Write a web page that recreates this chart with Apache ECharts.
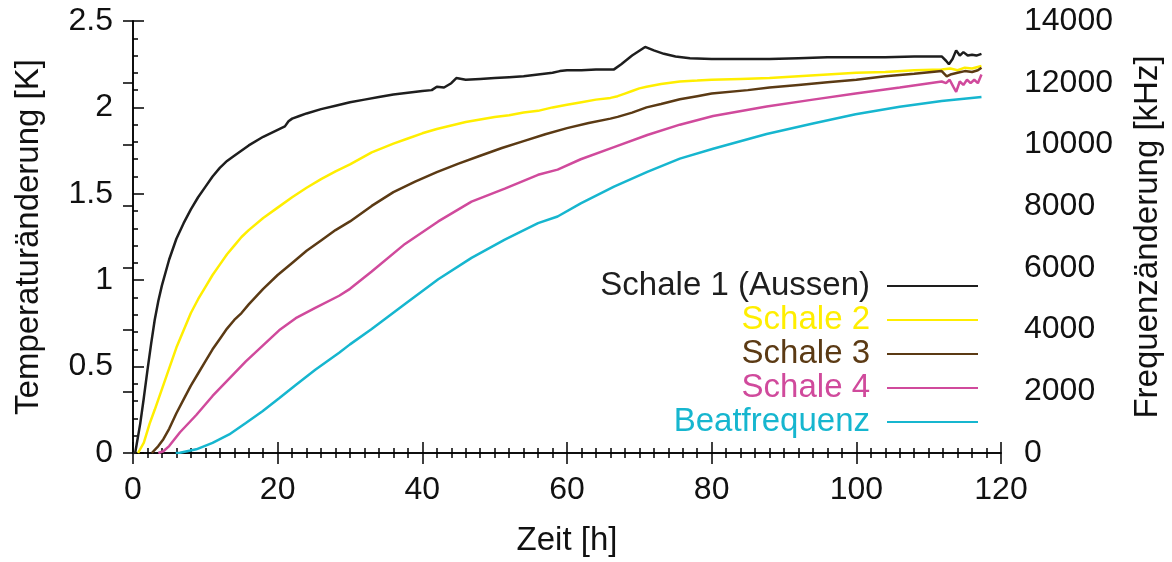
<!DOCTYPE html>
<html>
<head>
<meta charset="utf-8">
<script src="https://cdn.jsdelivr.net/npm/echarts@6/dist/echarts.min.js"></script>
<style>html,body{margin:0;padding:0;background:#fff;}#c{width:1172px;height:562px;}</style>
</head>
<body>
<div id="c"></div>
<script>
// Time axis tick labels
const xTicks = [0, 20, 40, 60, 80, 100, 120];
const yLeftTicks = [0, 0.5, 1, 1.5, 2, 2.5];
const yRightTicks = [0, 2000, 4000, 6000, 8000, 10000, 12000, 14000];

// Schale 1 (Aussen) [K]
const tS1 = [0, 0.3, 1, 1.5, 2, 2.5, 3, 3.5, 4, 5, 6, 7, 8, 9, 10, 11, 12, 13, 14, 16, 18, 20, 21, 21.5, 22, 23, 24, 26, 28, 30, 32, 34, 36, 38, 40, 41.3, 42, 43, 44, 44.7, 46, 48, 50, 52, 54, 56, 58, 59, 60, 62, 64, 66.5, 67.5, 69, 70.8, 72, 73.4, 75, 77, 80, 84, 88, 92, 96, 100, 104, 108, 111.8, 112.4, 112.8, 113.3, 113.8, 114.3, 114.8, 115.4, 116, 116.6, 117.3];
const vS1 = [0, 0, 0.17, 0.32, 0.48, 0.63, 0.77, 0.88, 0.97, 1.12, 1.24, 1.33, 1.41, 1.48, 1.54, 1.6, 1.65, 1.69, 1.72, 1.78, 1.83, 1.87, 1.89, 1.92, 1.935, 1.95, 1.965, 1.99, 2.01, 2.03, 2.045, 2.06, 2.075, 2.085, 2.095, 2.1, 2.12, 2.115, 2.14, 2.17, 2.16, 2.165, 2.17, 2.175, 2.18, 2.19, 2.2, 2.21, 2.215, 2.215, 2.22, 2.22, 2.25, 2.3, 2.35, 2.33, 2.31, 2.295, 2.285, 2.28, 2.28, 2.28, 2.285, 2.29, 2.29, 2.29, 2.295, 2.295, 2.27, 2.25, 2.28, 2.33, 2.3, 2.32, 2.3, 2.305, 2.3, 2.31];

// Schale 2 [K]
const tS2 = [0.7, 1.5, 2.3, 3, 4, 5, 6, 7, 8, 9, 10, 11, 12, 13, 14, 15, 16, 18, 20, 22, 24, 26, 28, 30, 33, 36, 38, 40, 42, 44, 46, 48, 50, 52, 54, 56, 58, 60, 62, 64, 66, 67, 68, 69, 70, 71, 73, 75.6, 78, 80, 84, 88, 92, 96, 100, 104, 108, 111.8, 113, 114, 115, 116, 117.3];
const vS2 = [0, 0.06, 0.17, 0.25, 0.37, 0.49, 0.61, 0.71, 0.81, 0.89, 0.96, 1.03, 1.09, 1.15, 1.2, 1.25, 1.29, 1.36, 1.42, 1.48, 1.535, 1.585, 1.63, 1.67, 1.74, 1.79, 1.82, 1.85, 1.875, 1.895, 1.915, 1.93, 1.945, 1.955, 1.97, 1.98, 2.0, 2.015, 2.03, 2.045, 2.055, 2.065, 2.08, 2.095, 2.11, 2.12, 2.135, 2.15, 2.155, 2.16, 2.165, 2.17, 2.18, 2.19, 2.2, 2.205, 2.215, 2.22, 2.225, 2.215, 2.23, 2.225, 2.24];

// Schale 3 [K]
const tS3 = [2.6, 3.5, 4.2, 5, 6, 7, 8, 9, 10, 11, 12, 13, 14, 15, 16, 18, 20, 22, 24, 26, 28, 30, 33, 36, 39, 42, 45, 48, 51, 54, 57, 60, 63, 66, 67, 69, 71, 73, 75.6, 78, 80, 85, 88, 92, 96, 100, 104, 108, 111.8, 112.5, 113, 114, 115, 116, 116.8, 117.3];
const vS3 = [0, 0.04, 0.08, 0.14, 0.23, 0.31, 0.39, 0.46, 0.53, 0.6, 0.66, 0.72, 0.77, 0.81, 0.86, 0.95, 1.03, 1.1, 1.17, 1.23, 1.29, 1.34, 1.43, 1.51, 1.57, 1.625, 1.675, 1.72, 1.765, 1.805, 1.845, 1.88, 1.91, 1.935, 1.945, 1.97, 2.0, 2.02, 2.047, 2.065, 2.08, 2.1, 2.115, 2.13, 2.145, 2.16, 2.18, 2.195, 2.21, 2.18, 2.19, 2.2, 2.21, 2.205, 2.215, 2.23];

// Schale 4 [K]
const tS4 = [3.5, 4.2, 5, 6.5, 8.75, 11, 13.3, 15.6, 17.9, 20.2, 22.5, 25.2, 28.5, 30, 33, 37.6, 42.2, 46.8, 51.4, 56, 58.7, 61.9, 66.5, 71.1, 75.6, 80.2, 87.6, 94, 99.9, 106, 111.8, 112.4, 112.9, 113.4, 113.8, 114.3, 114.8, 115.3, 115.8, 116.3, 116.8, 117.3];
const vS4 = [0, 0.01, 0.04, 0.12, 0.22, 0.33, 0.43, 0.53, 0.62, 0.71, 0.78, 0.84, 0.91, 0.95, 1.05, 1.21, 1.34, 1.455, 1.53, 1.61, 1.64, 1.7, 1.77, 1.84, 1.9, 1.95, 2.005, 2.045, 2.08, 2.115, 2.15, 2.14, 2.16, 2.12, 2.09, 2.15, 2.13, 2.16, 2.14, 2.16, 2.14, 2.19];

// Beatfrequenz [kHz]
const tBF = [5.9, 6.5, 8.75, 11, 13.3, 15.6, 17.9, 20.2, 22.5, 25.2, 28.5, 30, 33, 37.6, 42.2, 46.8, 51.4, 56, 58.7, 61.9, 66.5, 71.1, 75.6, 80.2, 87.6, 94, 99.9, 106, 111.8, 117.3];
const vBF = [0, 10, 120, 330, 600, 970, 1350, 1775, 2205, 2700, 3250, 3520, 4020, 4825, 5630, 6325, 6915, 7450, 7665, 8090, 8630, 9110, 9540, 9860, 10340, 10680, 10980, 11220, 11410, 11540];

const names = ['Schale 1 (Aussen)', 'Schale 2', 'Schale 3', 'Schale 4', 'Beatfrequenz'];
const colors = ['#1e1e1e', '#ffee00', '#5b3a14', '#d04a9c', '#16b6cf'];

const pairs = (t, v) => t.map((x, i) => [x, v[i]]);
const FONT = 'Liberation Sans, Arial, Helvetica, sans-serif';

const chart = echarts.init(document.getElementById('c'), null, {renderer: 'canvas'});

const xBase = {
  type: 'value', min: xTicks[0], max: xTicks[xTicks.length - 1], interval: 20,
  axisLine: {show: true, lineStyle: {color: '#000', width: 1.5}},
  axisTick: {show: true, inside: true, length: 11, lineStyle: {color: '#000', width: 1.5}},
  minorTick: {show: true, splitNumber: 10, length: 5, lineStyle: {color: '#000', width: 1.5}},
  splitLine: {show: false}
};

chart.setOption({
  animation: false,
  backgroundColor: '#fff',
  grid: {left: 133, right: 166, top: 21, bottom: 105, containLabel: false},
  textStyle: {fontFamily: FONT},
  legend: {
    orient: 'vertical', align: 'right', right: 194, top: 269, padding: 0, itemGap: 0,
    itemWidth: 91, itemHeight: 2, icon: 'rect',
    textStyle: {fontFamily: FONT, fontSize: 33, lineHeight: 34, padding: [0, 12, 0, 0]},
    data: names.map((n, i) => ({name: n, textStyle: {color: colors[i]}}))
  },
  xAxis: [
    Object.assign({}, xBase, {
      position: 'bottom',
      name: 'Zeit [h]', nameLocation: 'middle', nameGap: 71,
      nameTextStyle: {fontFamily: FONT, fontSize: 33, color: '#111'},
      axisLabel: {show: true, fontFamily: FONT, fontSize: 32, color: '#111', margin: 21}
    }),
    Object.assign({}, xBase, {position: 'top', axisLabel: {show: false}})
  ],
  yAxis: [
    {
      type: 'value', min: yLeftTicks[0], max: yLeftTicks[yLeftTicks.length - 1], interval: 0.5,
      position: 'left',
      name: 'Temperaturänderung [K]', nameLocation: 'middle', nameGap: 88, nameRotate: 90,
      nameTextStyle: {fontFamily: FONT, fontSize: 33, color: '#111'},
      axisLine: {show: true, lineStyle: {color: '#000', width: 1.5}},
      axisTick: {show: true, inside: true, length: 11, lineStyle: {color: '#000', width: 1.5}},
      minorTick: {show: true, splitNumber: 5, length: 5, lineStyle: {color: '#000', width: 1.5}},
      axisLabel: {show: true, fontFamily: FONT, fontSize: 32, color: '#111', margin: 20},
      splitLine: {show: false}
    },
    {
      type: 'value', min: yRightTicks[0], max: yRightTicks[yRightTicks.length - 1], interval: 2000,
      position: 'right',
      name: 'Frequenzänderung [kHz]', nameLocation: 'middle', nameGap: 130, nameRotate: 90,
      nameTextStyle: {fontFamily: FONT, fontSize: 33, color: '#111'},
      axisLine: {show: true, lineStyle: {color: '#000', width: 1.5}},
      axisTick: {show: true, inside: true, length: 10, lineStyle: {color: '#000', width: 1.5}},
      axisLabel: {show: true, fontFamily: FONT, fontSize: 32, color: '#111', margin: 23,
        formatter: (v) => String(v)},
      splitLine: {show: false}
    }
  ],
  series: [
    {name: names[0], type: 'line', xAxisIndex: 0, yAxisIndex: 0, data: pairs(tS1, vS1)},
    {name: names[1], type: 'line', xAxisIndex: 0, yAxisIndex: 0, data: pairs(tS2, vS2)},
    {name: names[2], type: 'line', xAxisIndex: 0, yAxisIndex: 0, data: pairs(tS3, vS3)},
    {name: names[3], type: 'line', xAxisIndex: 0, yAxisIndex: 0, data: pairs(tS4, vS4)},
    {name: names[4], type: 'line', xAxisIndex: 0, yAxisIndex: 1, data: pairs(tBF, vBF)}
  ].map((s, i) => Object.assign(s, {
    symbol: 'none', showSymbol: false, smooth: false,
    lineStyle: {color: colors[i], width: 2.5},
    itemStyle: {color: colors[i]}
  }))
});
</script>
</body>
</html>
